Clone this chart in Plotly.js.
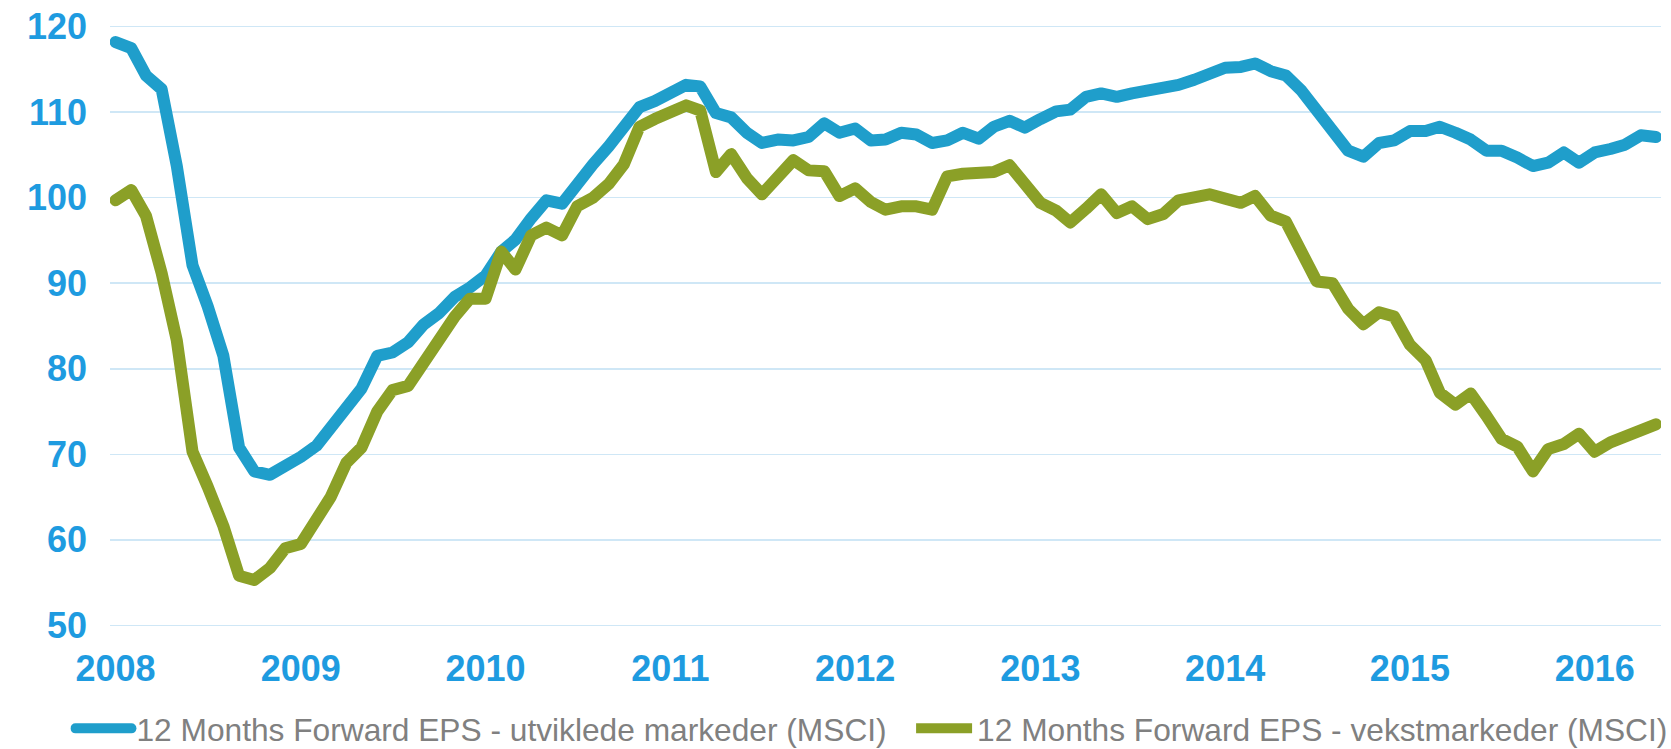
<!DOCTYPE html>
<html><head><meta charset="utf-8">
<script src="https://cdn.plot.ly/plotly-3.0.1.min.js"></script>
<style>
html,body{margin:0;padding:0;background:#fff;}
#chart{width:1671px;height:749px;}
.scatterlayer .js-line{stroke-linejoin:round;stroke-linecap:round;}
.legend .js-line{stroke-linecap:round;}
</style></head><body><div id="chart"></div>
<script>
const months = [
 '2008-01','2008-02','2008-03','2008-04','2008-05','2008-06','2008-07','2008-08','2008-09','2008-10','2008-11','2008-12',
 '2009-01','2009-02','2009-03','2009-04','2009-05','2009-06','2009-07','2009-08','2009-09','2009-10','2009-11','2009-12',
 '2010-01','2010-02','2010-03','2010-04','2010-05','2010-06','2010-07','2010-08','2010-09','2010-10','2010-11','2010-12',
 '2011-01','2011-02','2011-03','2011-04','2011-05','2011-06','2011-07','2011-08','2011-09','2011-10','2011-11','2011-12',
 '2012-01','2012-02','2012-03','2012-04','2012-05','2012-06','2012-07','2012-08','2012-09','2012-10','2012-11','2012-12',
 '2013-01','2013-02','2013-03','2013-04','2013-05','2013-06','2013-07','2013-08','2013-09','2013-10','2013-11','2013-12',
 '2014-01','2014-02','2014-03','2014-04','2014-05','2014-06','2014-07','2014-08','2014-09','2014-10','2014-11','2014-12',
 '2015-01','2015-02','2015-03','2015-04','2015-05','2015-06','2015-07','2015-08','2015-09','2015-10','2015-11','2015-12',
 '2016-01','2016-02','2016-03','2016-04','2016-05'
];
const developed = [
 118.2,117.5,114.3,112.7,103.7,92.1,87.3,81.5,70.8,68.0,67.6,68.5,
 69.7,71.0,73.1,75.4,77.7,81.5,81.9,83.1,85.2,86.5,88.4,89.5,
 90.9,93.7,95.1,97.6,99.7,99.3,101.8,103.9,106.0,108.1,110.6,111.3,
 112.4,113.2,113.0,109.9,109.4,107.6,106.4,106.8,106.7,107.1,108.7,107.6,
 108.1,106.7,106.8,107.6,107.4,106.4,106.7,107.6,106.9,108.3,109.0,108.2,
 109.2,110.1,110.3,111.8,112.2,111.8,112.2,112.5,113.0,113.2,113.8,114.4,
 115.2,115.3,115.7,114.8,114.3,112.5,110.2,108.1,105.5,104.8,106.4,106.7,
 107.8,107.8,108.3,107.6,106.8,105.5,105.5,104.7,103.7,104.1,105.3,104.1,
 105.3,105.7,106.2,107.3,107.1
];
const emerging = [
 99.7,100.9,97.9,91.2,83.3,70.3,66.2,61.6,55.8,55.3,56.7,59.0,
 59.5,62.2,65.0,69.0,70.8,75.0,77.5,78.0,80.8,83.3,86.1,88.2,
 88.2,93.7,91.6,95.6,96.5,95.6,99.0,100.0,101.6,103.9,108.3,109.2,
 110.0,110.8,110.2,103.0,105.1,102.3,100.4,102.4,104.4,103.2,103.1,100.2,
 101.1,99.5,98.6,99.0,99.0,98.6,102.5,102.8,103.0,103.0,103.8,101.4,
 99.4,98.5,97.1,98.7,100.4,98.2,99.0,97.5,98.1,99.7,100.2,100.4,
 99.9,99.4,100.2,97.9,97.2,93.7,90.2,90.0,87.0,85.2,86.6,86.1,
 82.8,81.0,77.2,75.8,77.1,74.5,71.8,70.9,68.0,70.6,71.2,72.4,
 70.3,71.4,72.2,73.0,73.5
];
const seriesNames = [
 '12 Months Forward EPS - utviklede markeder (MSCI)',
 '12 Months Forward EPS - vekstmarkeder (MSCI)'
];
const yearTicks = ['2008-01-01','2009-01-01','2010-01-01','2011-01-01','2012-01-01','2013-01-01','2014-01-01','2015-01-01','2016-01-01'];
const yearLabels = ['2008','2009','2010','2011','2012','2013','2014','2015','2016'];
const yTicks = [50,60,70,80,90,100,110,120];

const tickBlue = '#1E9BE0';
const fam = 'Arial, "Liberation Sans", sans-serif';
const traces = [
 {x: months, y: developed, name: seriesNames[0], type: 'scatter', mode: 'lines', legend: 'legend',
  line: {color: '#1F9ECB', width: 12}},
 {x: months, y: emerging, name: seriesNames[1], type: 'scatter', mode: 'lines', legend: 'legend2',
  line: {color: '#8BA027', width: 12}}
];
const legendBase = {orientation: 'h', xanchor: 'left', y: -0.169, yanchor: 'middle',
  font: {size: 31.7, color: '#808080', family: fam}, itemwidth: 56, bgcolor: 'rgba(0,0,0,0)'};
const layout = {
 width: 1671, height: 749,
 margin: {l: 110, r: 10, t: 25, b: 122, autoexpand: false},
 paper_bgcolor: '#ffffff', plot_bgcolor: '#ffffff',
 font: {family: fam},
 showlegend: true,
 legend: Object.assign({}, legendBase, {x: -0.0255}),
 legend2: Object.assign({}, legendBase, {x: 0.5165}),
 xaxis: {type: 'date', range: ['2007-12-21', '2016-05-11'], tickvals: yearTicks, ticktext: yearLabels,
  showgrid: false, zeroline: false, showline: false, ticks: '', ticklabelstandoff: 17,
  tickfont: {size: 36, color: tickBlue, family: fam, weight: 'bold'}},
 yaxis: {range: [49.8, 120.2], tickvals: yTicks, showgrid: true, gridcolor: '#CFE7F6', gridwidth: 1.5,
  zeroline: false, showline: false, ticks: '', ticklabelstandoff: 22,
  tickfont: {size: 36, color: tickBlue, family: fam, weight: 'bold'}}
};
Plotly.newPlot('chart', traces, layout, {displayModeBar: false, staticPlot: true});
</script></body></html>
